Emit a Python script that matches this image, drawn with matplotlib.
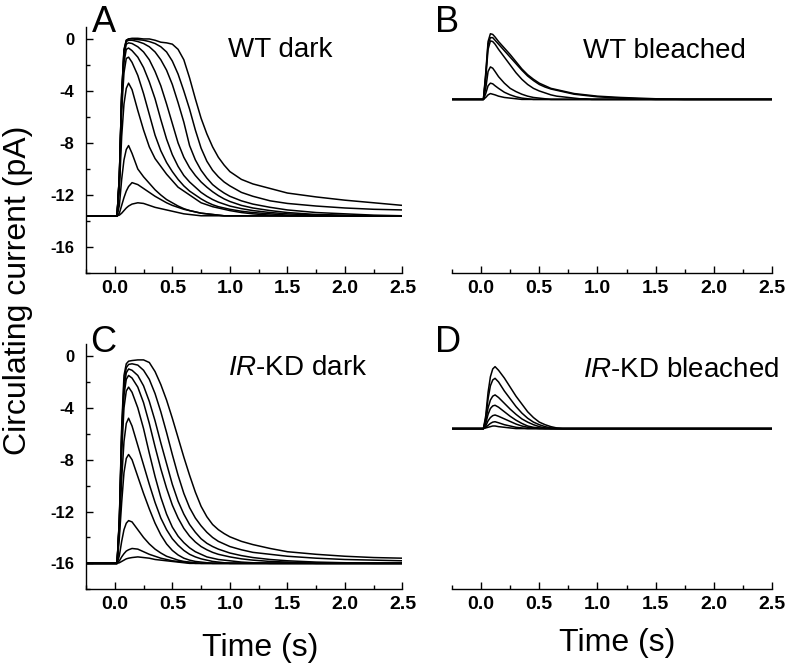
import matplotlib
matplotlib.use("Agg")
import matplotlib.pyplot as plt
from matplotlib.ticker import MultipleLocator

plt.rcParams['font.family'] = ['Liberation Sans', 'DejaVu Sans']
plt.rcParams['mathtext.fontset'] = 'custom'
plt.rcParams['mathtext.it'] = 'Liberation Sans:italic'
plt.rcParams['mathtext.rm'] = 'Liberation Sans'
plt.rcParams['axes.unicode_minus'] = False

# ---------------- data ----------------
time_s = [-0.25, 0.02, 0.04, 0.06, 0.08, 0.10, 0.12, 0.15, 0.20, 0.25, 0.30, 0.35, 0.40,
          0.45, 0.50, 0.55, 0.60, 0.65, 0.70, 0.75, 0.80, 0.85, 0.90, 0.95, 1.00, 1.10,
          1.20, 1.35, 1.50, 1.75, 2.00, 2.25, 2.50]

# Panel A: WT dark (pA)
wt_dark = [
    [-13.6, -13.6, -13.55, -13.4, -13.2, -13.0, -12.85, -12.7, -12.6, -12.65, -12.8, -12.95, -13.05,
     -13.15, -13.25, -13.35, -13.45, -13.5, -13.55, -13.6, -13.6, -13.6, -13.6, -13.6, -13.6, -13.6,
     -13.6, -13.6, -13.6, -13.6, -13.6, -13.6, -13.6],
    [-13.6, -13.6, -13.4, -12.8, -12.2, -11.7, -11.35, -11.05, -11.2, -11.5, -11.8, -12.1, -12.35,
     -12.6, -12.8, -12.95, -13.1, -13.2, -13.3, -13.4, -13.45, -13.5, -13.55, -13.6, -13.6, -13.6,
     -13.6, -13.6, -13.6, -13.6, -13.6, -13.6, -13.6],
    [-13.6, -13.6, -12.8, -10.8, -9.3, -8.5, -8.2, -8.8, -10.0, -10.6, -11.1, -11.6, -12.0,
     -12.35, -12.6, -12.85, -13.05, -13.2, -13.3, -13.4, -13.45, -13.5, -13.55, -13.6, -13.6, -13.6,
     -13.6, -13.6, -13.6, -13.6, -13.6, -13.6, -13.6],
    [-13.6, -13.6, -11.5, -7.5, -5.0, -3.8, -3.4, -3.9, -5.5, -7.0, -8.3, -9.2, -9.8,
     -10.4, -10.9, -11.4, -11.7, -12.0, -12.3, -12.6, -12.75, -12.9, -13.0, -13.1, -13.2, -13.35,
     -13.45, -13.55, -13.6, -13.6, -13.6, -13.6, -13.6],
    [-13.6, -13.6, -11.0, -5.5, -2.6, -1.5, -1.4, -1.8, -2.8, -4.2, -5.8, -7.4, -8.6,
     -9.5, -10.2, -10.8, -11.3, -11.7, -12.0, -12.3, -12.55, -12.75, -12.9, -13.0, -13.1, -13.25,
     -13.35, -13.45, -13.55, -13.6, -13.6, -13.6, -13.6],
    [-13.6, -13.6, -10.8, -4.8, -1.8, -0.8, -0.7, -0.9, -1.4, -2.2, -3.3, -4.6, -6.2,
     -7.7, -8.9, -9.8, -10.5, -11.0, -11.4, -11.8, -12.1, -12.35, -12.55, -12.7, -12.85, -13.05,
     -13.2, -13.35, -13.45, -13.55, -13.6, -13.6, -13.6],
    [-13.6, -13.6, -10.6, -4.5, -1.3, -0.4, -0.3, -0.35, -0.6, -1.0, -1.6, -2.5, -3.6,
     -5.0, -6.5, -8.0, -9.1, -9.9, -10.5, -11.0, -11.4, -11.75, -12.05, -12.3, -12.5, -12.8,
     -13.0, -13.2, -13.35, -13.5, -13.55, -13.6, -13.6],
    [-13.6, -13.6, -10.5, -4.3, -1.0, -0.2, -0.1, -0.1, -0.2, -0.35, -0.6, -1.0, -1.6,
     -2.4, -3.5, -4.9, -6.4, -8.2, -9.3, -10.1, -10.7, -11.2, -11.55, -11.85, -12.1, -12.45,
     -12.7, -12.95, -13.15, -13.35, -13.45, -13.55, -13.6],
    [-13.6, -13.6, -10.5, -4.2, -0.9, -0.1, 0.0, 0.0, -0.05, -0.1, -0.2, -0.35, -0.6,
     -1.0, -1.7, -2.7, -4.0, -5.4, -7.0, -8.4, -9.4, -10.1, -10.6, -11.0, -11.3, -11.8,
     -12.1, -12.45, -12.65, -12.85, -13.0, -13.1, -13.15],
    [-13.6, -13.6, -10.5, -4.2, -0.8, -0.1, 0.0, 0.05, 0.05, 0.0, 0.0, -0.1, -0.25,
     -0.3, -0.4, -0.8, -1.6, -3.0, -4.6, -6.1, -7.3, -8.3, -9.1, -9.7, -10.2, -10.8,
     -11.15, -11.5, -11.85, -12.15, -12.4, -12.6, -12.8],
]

# Panel B: WT bleached (pA)
wt_bleached = [
    [-4.65, -4.65, -4.5, -4.3, -4.2, -4.25, -4.3, -4.4, -4.5, -4.55, -4.6, -4.65, -4.65,
     -4.65, -4.65, -4.65, -4.65, -4.65, -4.65, -4.65, -4.65, -4.65, -4.65, -4.65, -4.65, -4.65,
     -4.65, -4.65, -4.65, -4.65, -4.65, -4.65, -4.65],
    [-4.65, -4.65, -4.2, -3.6, -3.4, -3.45, -3.6, -3.8, -4.1, -4.3, -4.45, -4.55, -4.6,
     -4.65, -4.65, -4.65, -4.65, -4.65, -4.65, -4.65, -4.65, -4.65, -4.65, -4.65, -4.65, -4.65,
     -4.65, -4.65, -4.65, -4.65, -4.65, -4.65, -4.65],
    [-4.65, -4.65, -3.8, -2.5, -2.15, -2.25, -2.5, -2.9, -3.4, -3.8, -4.05, -4.25, -4.4,
     -4.5, -4.55, -4.6, -4.65, -4.65, -4.65, -4.65, -4.65, -4.65, -4.65, -4.65, -4.65, -4.65,
     -4.65, -4.65, -4.65, -4.65, -4.65, -4.65, -4.65],
    [-4.65, -4.65, -3.0, -0.8, -0.15, -0.2, -0.4, -0.8, -1.4, -2.0, -2.6, -3.1, -3.5,
     -3.8, -4.0, -4.15, -4.3, -4.4, -4.45, -4.5, -4.55, -4.6, -4.6, -4.65, -4.65, -4.65,
     -4.65, -4.65, -4.65, -4.65, -4.65, -4.65, -4.65],
    [-4.65, -4.65, -2.8, -0.4, 0.1, 0.1, -0.1, -0.4, -0.9, -1.4, -1.9, -2.4, -2.85,
     -3.2, -3.5, -3.7, -3.85, -3.95, -4.05, -4.15, -4.25, -4.3, -4.35, -4.4, -4.45, -4.5,
     -4.55, -4.6, -4.65, -4.65, -4.65, -4.65, -4.65],
    [-4.65, -4.65, -2.6, -0.2, 0.4, 0.35, 0.15, -0.2, -0.7, -1.2, -1.75, -2.3, -2.75,
     -3.1, -3.4, -3.6, -3.8, -3.9, -4.0, -4.1, -4.2, -4.25, -4.3, -4.35, -4.4, -4.45,
     -4.5, -4.55, -4.6, -4.65, -4.65, -4.65, -4.65],
]

# Panel C: IR-KD dark (pA)
kd_dark = [
    [-16.0, -16.0, -15.95, -15.85, -15.75, -15.65, -15.6, -15.55, -15.5, -15.55, -15.6, -15.7, -15.75,
     -15.8, -15.85, -15.9, -15.95, -16.0, -16.0, -16.0, -16.0, -16.0, -16.0, -16.0, -16.0, -16.0,
     -16.0, -16.0, -16.0, -16.0, -16.0, -16.0, -16.0],
    [-16.0, -16.0, -15.8, -15.5, -15.25, -15.05, -14.95, -14.85, -14.9, -15.1, -15.3, -15.45, -15.6,
     -15.7, -15.8, -15.85, -15.9, -15.95, -16.0, -16.0, -16.0, -16.0, -16.0, -16.0, -16.0, -16.0,
     -16.0, -16.0, -16.0, -16.0, -16.0, -16.0, -16.0],
    [-16.0, -16.0, -15.4, -14.3, -13.4, -12.9, -12.7, -12.8, -13.4, -14.0, -14.5, -14.9, -15.2,
     -15.45, -15.6, -15.75, -15.85, -15.9, -15.95, -16.0, -16.0, -16.0, -16.0, -16.0, -16.0, -16.0,
     -16.0, -16.0, -16.0, -16.0, -16.0, -16.0, -16.0],
    [-16.0, -16.0, -14.0, -11.3, -9.0, -7.9, -7.6, -8.0, -9.3, -10.6, -11.8, -12.9, -13.8,
     -14.5, -15.0, -15.35, -15.6, -15.75, -15.85, -15.9, -15.95, -16.0, -16.0, -16.0, -16.0, -16.0,
     -16.0, -16.0, -16.0, -16.0, -16.0, -16.0, -16.0],
    [-16.0, -16.0, -13.5, -9.5, -6.6, -5.2, -4.8, -5.4, -6.9, -8.4, -9.9, -11.3, -12.5,
     -13.4, -14.1, -14.6, -15.0, -15.3, -15.5, -15.65, -15.75, -15.85, -15.9, -15.95, -16.0, -16.0,
     -16.0, -16.0, -16.0, -16.0, -16.0, -16.0, -16.0],
    [-16.0, -16.0, -13.0, -7.5, -4.0, -2.7, -2.4, -2.8, -4.0, -5.6, -7.5, -9.3, -10.9,
     -12.2, -13.2, -13.9, -14.4, -14.8, -15.1, -15.3, -15.5, -15.6, -15.7, -15.75, -15.8, -15.9,
     -15.95, -16.0, -16.0, -16.0, -16.0, -16.0, -16.0],
    [-16.0, -16.0, -12.8, -6.6, -3.0, -1.8, -1.5, -1.7, -2.4, -3.6, -5.2, -7.0, -8.7,
     -10.2, -11.5, -12.5, -13.3, -13.9, -14.35, -14.7, -14.95, -15.15, -15.3, -15.4, -15.5, -15.65,
     -15.75, -15.85, -15.9, -16.0, -16.0, -16.0, -16.0],
    [-16.0, -16.0, -12.7, -6.2, -2.5, -1.3, -1.0, -1.1, -1.5, -2.3, -3.5, -5.0, -6.7,
     -8.3, -9.9, -11.2, -12.2, -13.0, -13.6, -14.1, -14.45, -14.7, -14.9, -15.05, -15.2, -15.4,
     -15.55, -15.7, -15.8, -15.9, -15.95, -16.0, -16.0],
    [-16.0, -16.0, -12.6, -5.8, -2.0, -0.9, -0.65, -0.6, -0.7, -1.1, -1.8, -2.9, -4.3,
     -5.9, -7.6, -9.2, -10.6, -11.7, -12.5, -13.1, -13.6, -14.0, -14.3, -14.5, -14.7, -14.95,
     -15.15, -15.3, -15.45, -15.6, -15.7, -15.75, -15.8],
    [-16.0, -16.0, -12.5, -5.5, -1.5, -0.6, -0.4, -0.35, -0.3, -0.3, -0.5, -1.2, -2.2,
     -3.4, -4.8, -6.3, -7.8, -9.2, -10.5, -11.6, -12.4, -13.0, -13.4, -13.7, -13.95, -14.3,
     -14.55, -14.85, -15.1, -15.3, -15.45, -15.55, -15.6],
]

# Panel D: IR-KD bleached (pA)
kd_bleached = [
    [-5.6, -5.6, -5.55, -5.5, -5.45, -5.4, -5.4, -5.45, -5.5, -5.55, -5.6, -5.6, -5.6,
     -5.6, -5.6, -5.6, -5.6, -5.6, -5.6, -5.6, -5.6, -5.6, -5.6, -5.6, -5.6, -5.6,
     -5.6, -5.6, -5.6, -5.6, -5.6, -5.6, -5.6],
    [-5.6, -5.6, -5.5, -5.35, -5.2, -5.1, -5.07, -5.15, -5.3, -5.4, -5.5, -5.55, -5.6,
     -5.6, -5.6, -5.6, -5.6, -5.6, -5.6, -5.6, -5.6, -5.6, -5.6, -5.6, -5.6, -5.6,
     -5.6, -5.6, -5.6, -5.6, -5.6, -5.6, -5.6],
    [-5.6, -5.6, -5.4, -5.0, -4.75, -4.6, -4.55, -4.65, -4.85, -5.05, -5.25, -5.4, -5.5,
     -5.55, -5.6, -5.6, -5.6, -5.6, -5.6, -5.6, -5.6, -5.6, -5.6, -5.6, -5.6, -5.6,
     -5.6, -5.6, -5.6, -5.6, -5.6, -5.6, -5.6],
    [-5.6, -5.6, -5.2, -4.5, -4.05, -3.85, -3.8, -3.95, -4.3, -4.65, -4.95, -5.2, -5.4,
     -5.5, -5.55, -5.6, -5.6, -5.6, -5.6, -5.6, -5.6, -5.6, -5.6, -5.6, -5.6, -5.6,
     -5.6, -5.6, -5.6, -5.6, -5.6, -5.6, -5.6],
    [-5.6, -5.6, -5.0, -4.0, -3.4, -3.1, -3.0, -3.2, -3.65, -4.1, -4.5, -4.85, -5.1,
     -5.3, -5.45, -5.55, -5.6, -5.6, -5.6, -5.6, -5.6, -5.6, -5.6, -5.6, -5.6, -5.6,
     -5.6, -5.6, -5.6, -5.6, -5.6, -5.6, -5.6],
    [-5.6, -5.6, -4.8, -3.3, -2.3, -1.85, -1.72, -2.0, -2.7, -3.3, -3.9, -4.4, -4.8,
     -5.1, -5.3, -5.45, -5.55, -5.6, -5.6, -5.6, -5.6, -5.6, -5.6, -5.6, -5.6, -5.6,
     -5.6, -5.6, -5.6, -5.6, -5.6, -5.6, -5.6],
    [-5.6, -5.6, -4.6, -2.8, -1.6, -1.0, -0.82, -1.1, -1.7, -2.4, -3.1, -3.7, -4.3,
     -4.75, -5.1, -5.3, -5.45, -5.55, -5.6, -5.6, -5.6, -5.6, -5.6, -5.6, -5.6, -5.6,
     -5.6, -5.6, -5.6, -5.6, -5.6, -5.6, -5.6],
]

panel_letters = ["A", "B", "C", "D"]
panel_titles = ["WT dark", "WT bleached", r"$\mathit{IR}$-KD dark", r"$\mathit{IR}$-KD bleached"]
y_label = "Circulating current (pA)"
x_label = "Time (s)"

# ---------------- layout ----------------
W, H = 789, 668
fig = plt.figure(figsize=(W / 100, H / 100), dpi=100)


def add_axes_px(left, top, right, bottom):
    return fig.add_axes([left / W, 1 - bottom / H, (right - left) / W, (bottom - top) / H])


axA = add_axes_px(86, 26.6, 402.5, 273)
axB = add_axes_px(452, 26.6, 772, 273)
axC = add_axes_px(86, 343.7, 402.5, 589.3)
axD = add_axes_px(452, 343.7, 772, 589.3)
axes = [axA, axB, axC, axD]
datasets = [wt_dark, wt_bleached, kd_dark, kd_bleached]

for i, (ax, traces) in enumerate(zip(axes, datasets)):
    for tr in traces:
        assert len(tr) == len(time_s)
        ax.plot(time_s, tr, color='black', lw=1.1)
    ax.set_xlim(-0.25, 2.5)
    ax.set_ylim(-18, 0.95)
    ax.spines['top'].set_visible(False)
    ax.spines['right'].set_visible(False)
    ax.spines['bottom'].set_linewidth(1.0)
    ax.spines['left'].set_linewidth(1.0)
    ax.xaxis.set_major_locator(MultipleLocator(0.5))
    ax.xaxis.set_minor_locator(MultipleLocator(0.25))
    ax.tick_params(axis='both', which='major', direction='in', length=5, width=1)
    ax.tick_params(axis='both', which='minor', direction='in', length=3, width=1)
    ax.tick_params(axis='x', which='major', labelsize=14, pad=5)
    if i in (0, 2):
        ax.yaxis.set_major_locator(MultipleLocator(4))
        ax.yaxis.set_minor_locator(MultipleLocator(2))
        ax.tick_params(axis='y', which='major', labelsize=12, pad=8.5)
    else:
        ax.spines['left'].set_visible(False)
        ax.set_yticks([])
        ax.yaxis.set_minor_locator(plt.NullLocator())
    for lab in ax.get_xticklabels() + ax.get_yticklabels():
        lab.set_fontweight('bold')

# panel letters and titles (pixel positions of baselines)
letter_pos = [(92, 32), (435, 32), (90, 352), (435, 352)]
title_pos = [(228, 57), (583, 58), (228, 375), (583, 377)]
for (lx, ly), letter in zip(letter_pos, panel_letters):
    fig.text(lx / W, 1 - ly / H, letter, fontsize=26, ha='left', va='baseline')
for (tx, ty), title in zip(title_pos, panel_titles):
    fig.text(tx / W, 1 - ty / H, title, fontsize=20, ha='left', va='baseline')

fig.text(18 / W, 1 - 290 / H, y_label, fontsize=23, rotation=90, ha='center', va='center')
fig.text(260 / W, 1 - 656 / H, x_label, fontsize=23, ha='center', va='baseline')
fig.text(617 / W, 1 - 651 / H, x_label, fontsize=23, ha='center', va='baseline')

fig.savefig("out.png", dpi=100)
